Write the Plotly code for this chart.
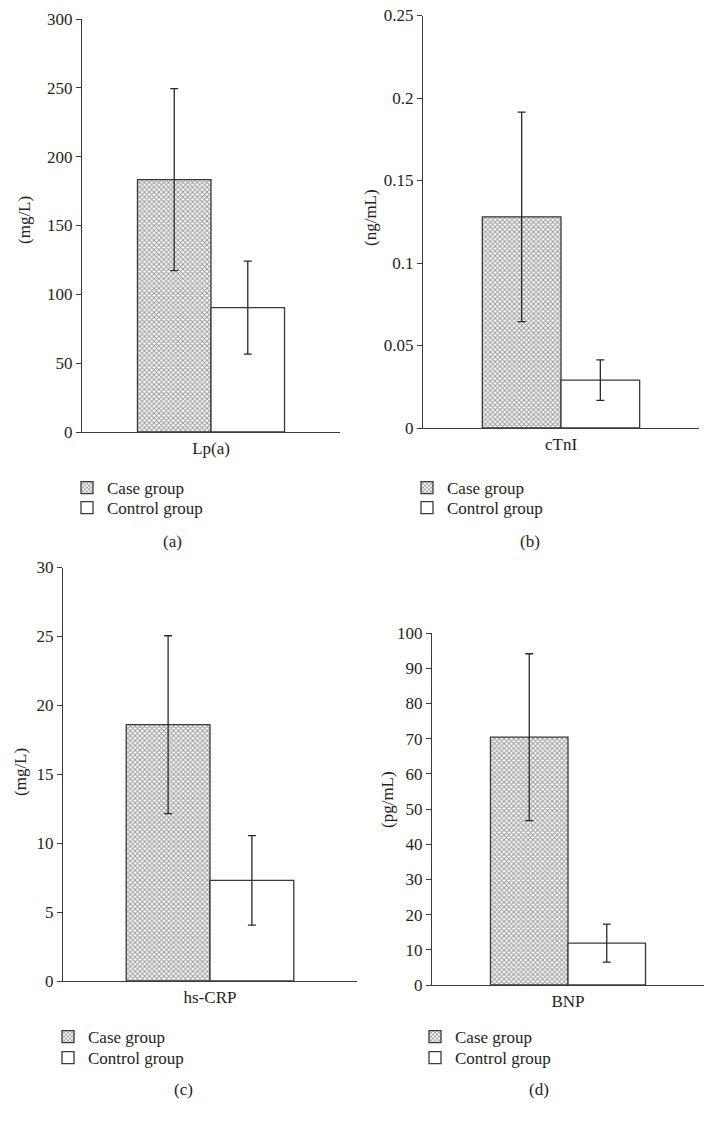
import plotly.graph_objects as go

W, H = 715, 1122

# ---- data ----
categories = ["Lp(a)", "cTnI", "hs-CRP", "BNP"]
units = ["(mg/L)", "(ng/mL)", "(mg/L)", "(pg/mL)"]
panel_labels = ["(a)", "(b)", "(c)", "(d)"]
series_names = ["Case group", "Control group"]
case_mean = [183.3, 0.128, 18.6, 70.4]
case_sd = [66.1, 0.0635, 6.45, 23.7]
control_mean = [90.3, 0.029, 7.3, 11.9]
control_sd = [33.8, 0.0123, 3.25, 5.4]
y_max = [300, 0.25, 30, 100]
y_step = [50, 0.05, 5, 10]
tick_texts = [
    ["0", "50", "100", "150", "200", "250", "300"],
    ["0", "0.05", "0.1", "0.15", "0.2", "0.25"],
    ["0", "5", "10", "15", "20", "25", "30"],
    ["0", "10", "20", "30", "40", "50", "60", "70", "80", "90", "100"],
]

# ---- layout geometry (pixels) ----
boxes = [
    (82, 340, 19, 432),
    (423, 699, 15.5, 428),
    (63, 357, 567.5, 981),
    (432, 704, 633, 985),
]
title_pos = [(25, 220), (370, 218), (20, 772), (387, 800)]
label_pos = [(172, 541), (530, 541), (183, 1089), (539, 1089)]
# (x of legend left, y of first row centre, y of second row centre)
legend_pos = [(67, 488, 508), (407, 488, 508), (48, 1037, 1058), (415, 1037, 1058)]

FONT = "Liberation Serif"
FS = 17
TXT = "#231f20"
LINE = "#3a3a3a"

def px(x):
    return x / W

def py(y):
    return 1 - y / H

fig = go.Figure()
annotations = []
layout = {}
leg_idx = 0
for i in range(4):
    n = "" if i == 0 else str(i + 1)
    xa, ya = "x" + n, "y" + n
    lx, r1, r2 = legend_pos[i]
    legs = []
    for row_y in (r1, r2):
        leg_idx += 1
        leg = "legend" if leg_idx == 1 else "legend" + str(leg_idx)
        legs.append(leg)
        layout[leg] = dict(
            x=px(lx), y=py(row_y - 18), xanchor="left", yanchor="top",
            bgcolor="rgba(0,0,0,0)",
            font=dict(family=FONT, size=FS, color=TXT),
            itemwidth=30,
        )
    fig.add_trace(go.Bar(
        x=[categories[i]], y=[case_mean[i]], name=series_names[0],
        xaxis=xa, yaxis=ya, legend=legs[0], showlegend=True,
        marker=dict(color="white",
                    pattern=dict(shape="x", size=3.4, solidity=0.55,
                                 fgcolor="#3c3c3c", bgcolor="white"),
                    line=dict(color=LINE, width=1.3)),
        error_y=dict(type="data", array=[case_sd[i]], color="#2a2a2a",
                     thickness=1.3, width=4),
    ))
    fig.add_trace(go.Bar(
        x=[categories[i]], y=[control_mean[i]], name=series_names[1],
        xaxis=xa, yaxis=ya, legend=legs[1], showlegend=True,
        marker=dict(color="white", line=dict(color=LINE, width=1.3)),
        error_y=dict(type="data", array=[control_sd[i]], color="#2a2a2a",
                     thickness=1.3, width=4),
    ))
    l, r, t, b = boxes[i]
    nt = len(tick_texts[i])
    tickvals = [k * y_step[i] for k in range(nt)]
    layout["xaxis" + n] = dict(
        domain=[px(l), px(r)], anchor=ya, type="category",
        range=[-0.5, 0.5], showline=True, linecolor=LINE, linewidth=1.3,
        ticks="", showgrid=False, zeroline=False, automargin=False,
        tickfont=dict(family=FONT, size=FS, color=TXT),
    )
    layout["yaxis" + n] = dict(
        domain=[py(b), py(t)], anchor=xa, range=[0, y_max[i]],
        tickvals=tickvals, ticktext=tick_texts[i],
        showline=True, linecolor=LINE, linewidth=1.3,
        ticks="outside", ticklen=5, tickcolor=LINE, tickwidth=1.3,
        showgrid=False, zeroline=False, automargin=False,
        tickfont=dict(family=FONT, size=FS, color=TXT),
    )
    tx, ty = title_pos[i]
    annotations.append(dict(
        x=px(tx), y=py(ty), xref="paper", yref="paper", text=units[i],
        textangle=-90, showarrow=False, xanchor="center", yanchor="middle",
        font=dict(family=FONT, size=FS, color=TXT),
    ))
    lbx, lby = label_pos[i]
    annotations.append(dict(
        x=px(lbx), y=py(lby), xref="paper", yref="paper", text=panel_labels[i],
        showarrow=False, xanchor="center", yanchor="middle",
        font=dict(family=FONT, size=FS, color=TXT),
    ))

fig.update_layout(
    width=W, height=H,
    margin=dict(l=0, r=0, t=0, b=0, pad=0, autoexpand=False),
    paper_bgcolor="white", plot_bgcolor="white", showlegend=True,
    barmode="group", bargap=0.43, bargroupgap=0,
    annotations=annotations, **layout,
)

fig.write_html("out.html", config={"displayModeBar": False},
               post_script="document.body.style.margin='0';")
